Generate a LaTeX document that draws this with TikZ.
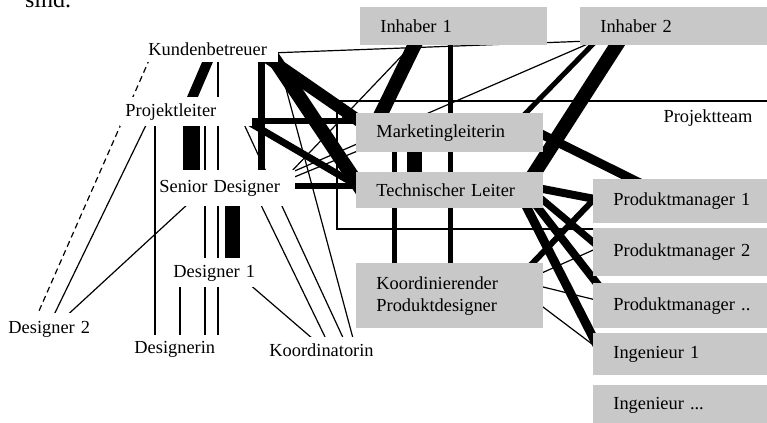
\documentclass[tikz,border=0pt]{standalone}
\usepackage{fontspec}
\setmainfont{Liberation Serif}
\pgfdeclarelayer{bg}
\pgfsetlayers{bg,main}
\definecolor{boxgray}{RGB}{200,200,200}
\begin{document}
\begin{tikzpicture}[x=0.5pt,y=-0.5pt,every node/.style={font=\fontsize{9.2}{11}\selectfont},
  lbl/.style={fill=white,anchor=north west,inner ysep=0pt,align=left},
  gbox/.style={fill=boxgray,anchor=north west,inner xsep=10pt,inner ysep=0pt,align=left,text width=73.5pt},
  wide/.style={gbox,text width=80pt},
  weak/.style={line width=0.6pt}]
\useasboundingbox (0,0) rectangle (767,423);
\node[anchor=base west,font=\fontsize{12}{14}\selectfont] (sind) at (18,7) {sind.};
\node[lbl,inner xsep=2.5pt,text width=62.5pt,minimum height=13pt] (kb) at (143,36) {Kundenbetreuer};
\node[lbl,inner xsep=2.5pt,text width=61pt,minimum height=14.5pt] (pl) at (120,97) {Projektleiter};
\node[lbl,inner xsep=1pt,text width=67pt,minimum height=18pt] (sd) at (157,170) {Senior Designer};
\node[lbl,inner xsep=1.5pt,text width=42pt,minimum height=14.5pt] (d1) at (170,258) {Designer 1};
\node[lbl,inner xsep=1.5pt,text width=42pt,minimum height=16pt] (d2) at (5,313) {Designer 2};
\node[lbl,inner xsep=2pt,text width=42pt,minimum height=13.5pt] (din) at (130,335) {Designerin};
\node[lbl,inner xsep=2pt,text width=53.5pt,minimum height=12.5pt] (ko) at (265,337) {Koordinatorin};
\node[gbox,minimum height=19pt] (inh1) at (360,7) {Inhaber 1};
\node[wide,minimum height=19pt] (inh2) at (580,7) {Inhaber 2};
\node[gbox,minimum height=19.5pt] (mkt) at (356,113) {Marketingleiterin};
\node[gbox,minimum height=18pt] (tl) at (356,172) {Technischer Leiter};
\node[gbox,minimum height=32.5pt] (kpd) at (356,263) {Koordinierender\\Produktdesigner};
\node[wide,minimum height=22pt] (pm1) at (593,179) {Produktmanager 1};
\node[wide,minimum height=24pt] (pm2) at (593,228) {Produktmanager 2};
\node[wide,minimum height=22.5pt] (pmx) at (593,283) {Produktmanager ..};
\node[wide,minimum height=21pt] (ing1) at (593,333) {Ingenieur 1};
\node[wide,minimum height=20pt] (ingx) at (593,385) {Ingenieur ...};
\node (pt) at (708,118) {Projektteam};
\begin{pgfonlayer}{bg}
\draw[line width=1pt] (337,101) rectangle (800,229);
\draw[weak] ([shift={(127,17)}]kb.north west) -- ([shift={(10,34)}]inh2.north west);
\draw[line width=5pt] ([shift={(71.4,10)}]kb.north west) -- ([shift={(66,15)}]pl.north west);
\draw[line width=3.5pt] ([shift={(118.5,19)}]kb.north west) -- ([shift={(104.5,8)}]sd.north west);
\draw[line width=6pt] ([shift={(110.5,12)}]kb.north west) -- ([shift={(9,12)}]mkt.north west);
\draw[line width=7pt] ([shift={(122.3,10)}]kb.north west) -- ([shift={(9,23)}]tl.north west);
\draw[line width=3pt] ([shift={(125,23.5)}]pl.north west) -- ([shift={(9,7.5)}]mkt.north west);
\draw[line width=3.5pt] ([shift={(125,23)}]pl.north west) -- ([shift={(9,18)}]tl.north west);
\draw[line width=8.5pt] ([shift={(71.5,15)}]pl.north west) -- ([shift={(34.5,15)}]sd.north west);
\draw[weak] ([shift={(35,23)}]pl.north west) -- ([shift={(25,10)}]din.north west);
\draw[weak] ([shift={(85,23)}]pl.north west) -- ([shift={(75,10)}]din.north west);
\draw[weak] ([shift={(75,19)}]kb.north west) -- ([shift={(88,10)}]din.north west);
\draw[weak] ([shift={(10,22)}]d1.north west) -- ([shift={(50,10)}]din.north west);
\draw[line width=7.5pt] ([shift={(75.5,20)}]sd.north west) -- ([shift={(62.5,14)}]d1.north west);
\draw[weak,dash pattern=on 3pt off 2pt] ([shift={(7,22)}]kb.north west) -- ([shift={(30,7)}]d2.north west);
\draw[weak] ([shift={(28.5,23)}]pl.north west) -- ([shift={(46.5,7)}]d2.north west);
\draw[weak] ([shift={(32,33)}]sd.north west) -- ([shift={(57,7)}]d2.north west);
\draw[weak] ([shift={(123,25)}]pl.north west) -- ([shift={(80,5)}]ko.north west);
\draw[weak] ([shift={(103,33)}]sd.north west) -- ([shift={(62,4)}]ko.north west);
\draw[weak] ([shift={(78,25)}]d1.north west) -- ([shift={(48,2)}]ko.north west);
\draw[weak] ([shift={(134,19)}]kb.north west) -- ([shift={(89,5)}]ko.north west);
\draw[weak] ([shift={(133,3)}]sd.north west) -- ([shift={(55,35)}]inh1.north west);
\draw[weak] ([shift={(133,3)}]sd.north west) -- ([shift={(10,36)}]inh2.north west);
\draw[weak] ([shift={(135,8)}]sd.north west) -- ([shift={(4,37)}]mkt.north west);
\draw[line width=3pt] ([shift={(133,16)}]sd.north west) -- ([shift={(9,14)}]tl.north west);
\draw[line width=7pt] ([shift={(58,31)}]inh1.north west) -- ([shift={(22,7)}]mkt.north west);
\draw[line width=2.5pt] ([shift={(90,33)}]inh1.north west) -- ([shift={(94,7)}]kpd.north west);
\draw[line width=7.5pt] ([shift={(58.5,32)}]mkt.north west) -- ([shift={(58.5,8)}]tl.north west);
\draw[line width=2.5pt] ([shift={(38.5,32)}]mkt.north west) -- ([shift={(38.5,7)}]kpd.north west);
\draw[line width=2.5pt] ([shift={(17,33)}]inh2.north west) -- ([shift={(165,5)}]mkt.north west);
\draw[line width=7pt] ([shift={(40,33)}]inh2.north west) -- ([shift={(174,8)}]tl.north west);
\draw[line width=4.5pt] ([shift={(179,18)}]mkt.north west) -- ([shift={(52,6.5)}]pm1.north west);
\draw[line width=4pt] ([shift={(179,15.5)}]tl.north west) -- ([shift={(7,21)}]pm1.north west);
\draw[line width=3.5pt] ([shift={(182,24)}]tl.north west) -- ([shift={(7,20)}]pm2.north west);
\draw[line width=4pt] ([shift={(176,28)}]tl.north west) -- ([shift={(9,7)}]pmx.north west);
\draw[line width=4.5pt] ([shift={(167,28)}]tl.north west) -- ([shift={(7,18)}]ing1.north west);
\draw[line width=3pt] ([shift={(172,5)}]kpd.north west) -- ([shift={(7,14)}]pm1.north west);
\draw[weak] ([shift={(179,13)}]kpd.north west) -- ([shift={(7,19)}]pm2.north west);
\draw[weak] ([shift={(179,22)}]kpd.north west) -- ([shift={(7,18)}]pmx.north west);
\draw[weak] ([shift={(179,38)}]kpd.north west) -- ([shift={(7,17)}]ing1.north west);
\end{pgfonlayer}
\end{tikzpicture}
\end{document}
